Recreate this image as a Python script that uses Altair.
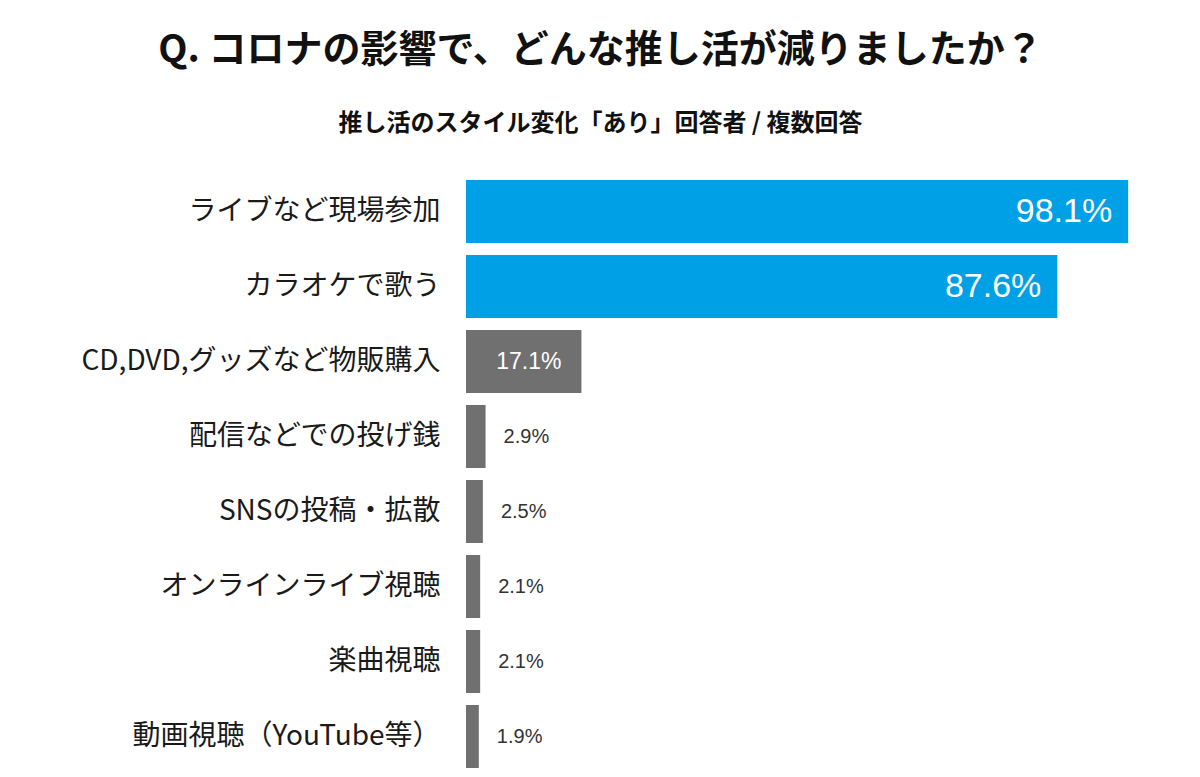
import altair as alt
import pandas as pd

categories = [
    "ライブなど現場参加",
    "カラオケで歌う",
    "CD,DVD,グッズなど物販購入",
    "配信などでの投げ銭",
    "SNSの投稿・拡散",
    "オンラインライブ視聴",
    "楽曲視聴",
    "動画視聴（YouTube等）",
]
values = [98.1, 87.6, 17.1, 2.9, 2.5, 2.1, 2.1, 1.9]
bar_colors = ["#00A0E6", "#00A0E6", "#707070", "#707070", "#707070", "#707070", "#707070", "#707070"]

df = pd.DataFrame({
    "cat": categories,
    "value": values,
    "color": bar_colors,
    "label": [f"{v:.1f}%" for v in values],
})

JP = "Noto Sans CJK JP"
NUM = "Liberation Sans"

y_enc = alt.Y(
    "cat:N", sort=categories, title=None,
    scale=alt.Scale(paddingInner=0.16, paddingOuter=0.08),
    axis=alt.Axis(ticks=False, domain=False, grid=False, labelFont=JP,
                  labelFontSize=28, labelColor="#1a1a1a", labelPadding=26,
                  labelLimit=500),
)
x_enc = alt.X("value:Q", title=None, scale=alt.Scale(domain=[0, 100], nice=False),
              axis=None)

base = alt.Chart(df).encode(y=y_enc, x=x_enc)

bars = base.mark_bar().encode(color=alt.Color("color:N", scale=None))

big = base.transform_filter("datum.value > 50").mark_text(
    align="right", baseline="middle", dx=-16, font=NUM, fontSize=34, color="white"
).encode(text="label:N")

mid = base.transform_filter("datum.value > 10 && datum.value <= 50").mark_text(
    align="right", baseline="middle", dx=-20, font=NUM, fontSize=23, color="white"
).encode(text="label:N")

small = base.transform_filter("datum.value <= 10").mark_text(
    align="left", baseline="middle", dx=18, font=NUM, fontSize=20, color="#333333"
).encode(text="label:N")

chart = alt.layer(bars, big, mid, small).properties(
    width=675,
    height=600,
    background="white",
    autosize=alt.AutoSizeParams(type="none"),
    padding={"left": 458, "top": 166, "right": 51, "bottom": 0},
    title=alt.Title(
        text="Q. コロナの影響で、どんな推し活が減りましたか？",
        subtitle="推し活のスタイル変化「あり」回答者 / 複数回答",
        anchor="middle",
        dx=-203,
        font=JP,
        fontSize=38,
        fontWeight="bold",
        color="#111111",
        subtitleFont=JP,
        subtitleFontSize=24,
        subtitleFontWeight="bold",
        subtitleColor="#111111",
        subtitlePadding=42,
        offset=38,
    ),
).configure_view(stroke=None, strokeWidth=0)

chart.save("out.html", embed_options={"renderer": "svg", "actions": False})
